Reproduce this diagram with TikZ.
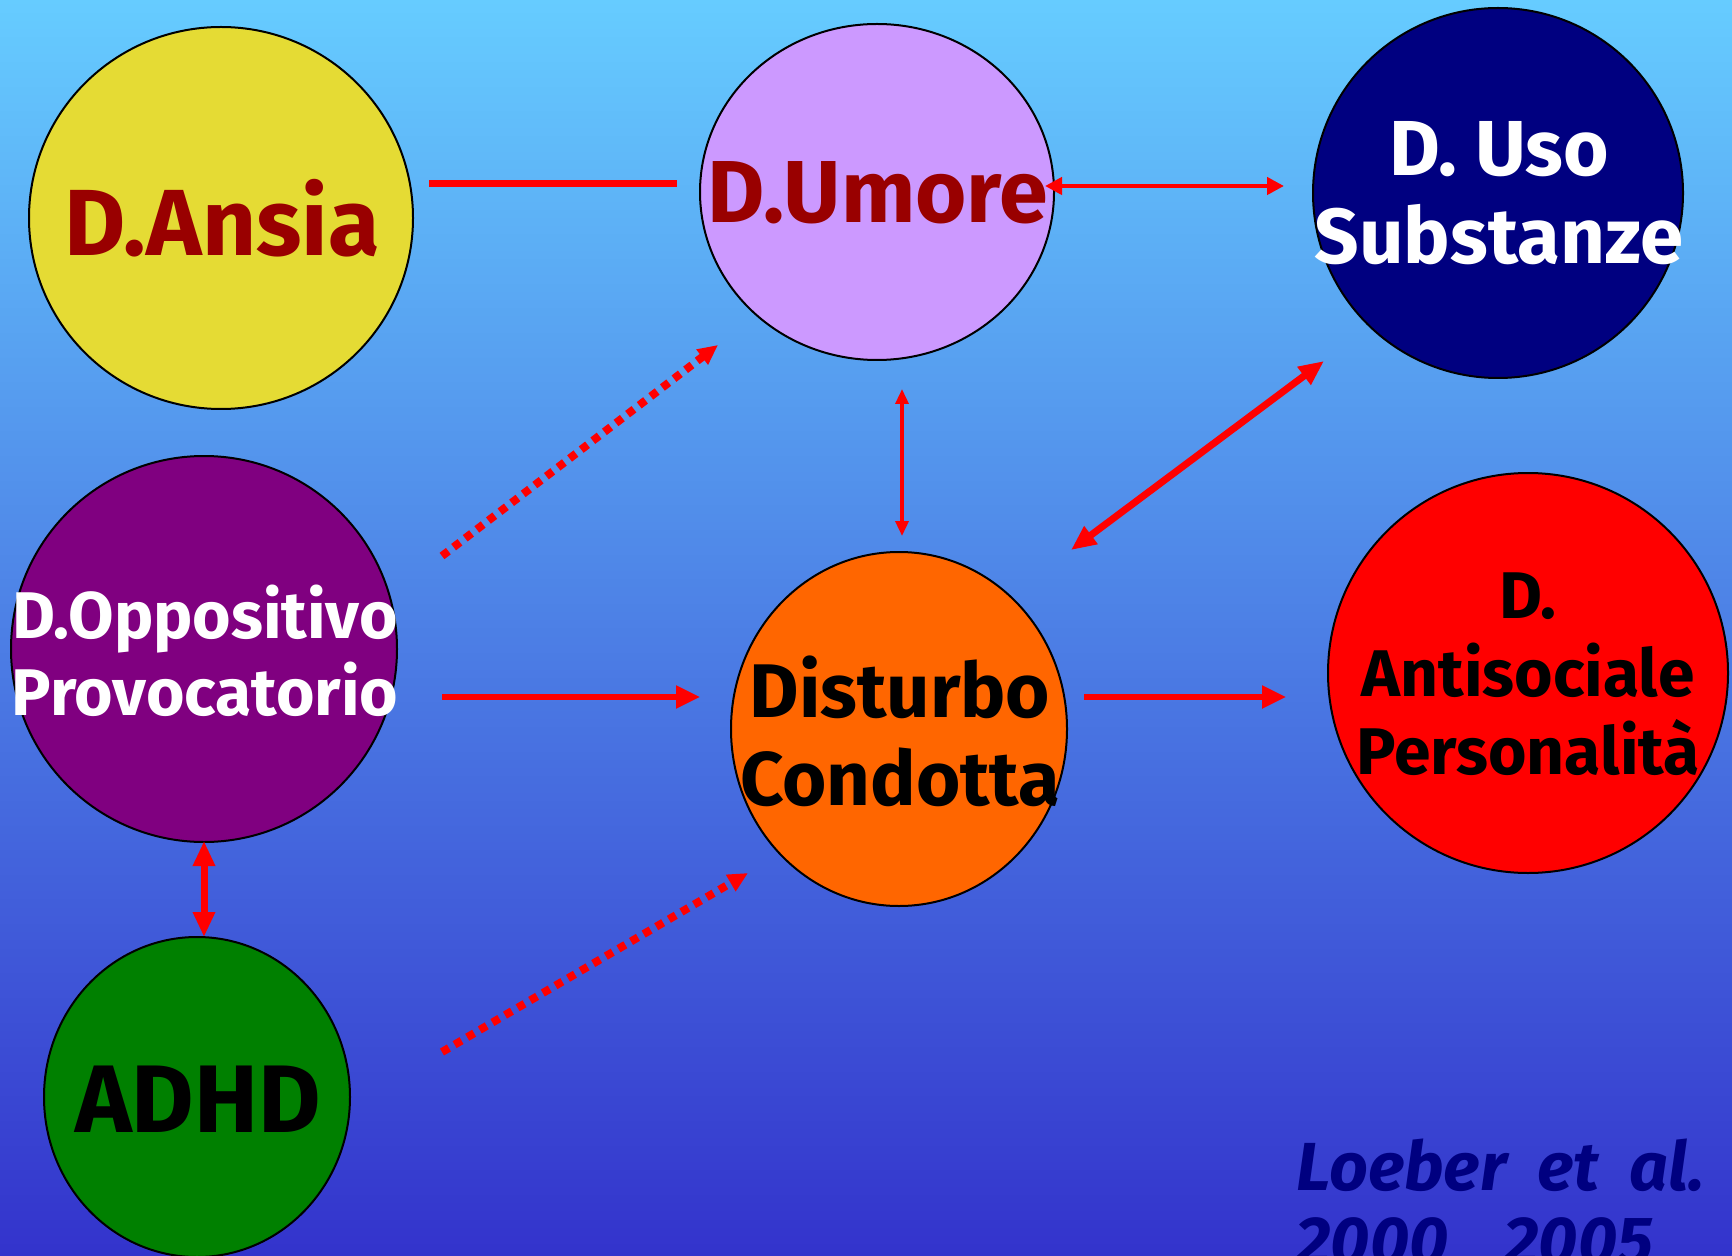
\documentclass[tikz,border=0pt]{standalone}
\usepackage{fontspec}
\setmainfont{Fira Sans}
\usetikzlibrary{arrows.meta,shapes.geometric}
\definecolor{bgtop}{RGB}{102,204,255}
\definecolor{bgbot}{RGB}{51,51,204}
\definecolor{ansiacol}{RGB}{229,219,52}
\definecolor{umorecol}{RGB}{204,153,255}
\definecolor{usocol}{RGB}{0,0,128}
\definecolor{oppcol}{RGB}{128,0,128}
\definecolor{distcol}{RGB}{255,102,0}
\definecolor{anticol}{RGB}{255,0,0}
\definecolor{adhdcol}{RGB}{0,128,0}
\definecolor{darkredtxt}{RGB}{153,0,0}
\definecolor{navytxt}{RGB}{0,0,128}
\definecolor{arrred}{RGB}{255,0,0}
\tikzset{
  blob/.style={ellipse, draw=black, line width=1pt, inner sep=0pt},
  lbl/.style={inner sep=0pt, align=center},
  plainline/.style={draw=arrred, line width=3.5pt},
  onearrow/.style={draw=arrred, line width=2.75pt, -{Triangle[length=12pt,width=11pt]}},
  thinboth/.style={draw=arrred, line width=2.2pt, {Triangle[length=8.5pt,width=8.5pt]}-{Triangle[length=8.5pt,width=8.5pt]}},
  vthinboth/.style={draw=arrred, line width=1.7pt, {Triangle[length=7.5pt,width=6.5pt]}-{Triangle[length=7.5pt,width=6.5pt]}},
  thickboth/.style={draw=arrred, line width=3.5pt, {Triangle[length=12.5pt,width=10.5pt]}-{Triangle[length=12.5pt,width=10.5pt]}},
  dotarrow/.style={draw=arrred, line width=4pt, dash pattern=on 4pt off 3.3pt, -{Triangle[length=10pt,width=9pt]}},
}
\begin{document}
\begin{tikzpicture}[x=0.5pt,y=-0.5pt]
\useasboundingbox (0,0) rectangle (1732,1256);
\shade[top color=bgtop,bottom color=bgbot] (0,0) rectangle (1732,1256);

% ellipses
\node[blob,fill=ansiacol,minimum width=192pt,minimum height=191pt] (ansia) at (221,218) {};
\node[blob,fill=umorecol,minimum width=177pt,minimum height=168pt] (umore) at (877,192) {};
\node[blob,fill=usocol,minimum width=185pt,minimum height=185pt] (uso) at (1498,193) {};
\node[blob,fill=oppcol,minimum width=193pt,minimum height=193pt] (opp) at (204,649) {};
\node[blob,fill=distcol,minimum width=168pt,minimum height=177pt] (dist) at (899,729) {};
\node[blob,fill=anticol,minimum width=200pt,minimum height=200pt] (anti) at (1528,673) {};
\node[blob,fill=adhdcol,minimum width=153pt,minimum height=160pt] (adhd) at (197,1097) {};

% texts
\node[lbl,text=darkredtxt,font=\fontsize{47}{50}\selectfont\bfseries] (ansiaT) at (222,218) {D.Ansia};
\node[lbl,text=darkredtxt,font=\fontsize{44}{48}\selectfont\bfseries] (umoreT) at (878,193) {D.Umore};
\node[lbl,text=white,font=\fontsize{39}{44}\selectfont\bfseries] (usoT) at (1499,193) {D.\ Uso\\Substanze};
\node[lbl,text=white,font=\fontsize{33}{38.5}\selectfont\bfseries] (oppT) at (205,651) {D.Oppositivo\\Provocatorio};
\node[lbl,text=black,font=\fontsize{38}{44}\selectfont\bfseries] (distT) at (900,731) {Disturbo\\Condotta};
\node[lbl,text=black,font=\fontsize{33}{39}\selectfont\bfseries] (antiT) at (1528,674) {D.\\Antisociale\\Personalità};
\node[lbl,text=black,font=\fontsize{48}{52}\selectfont\bfseries] (adhdT) at (198,1099) {ADHD};
\node[inner sep=0pt,align=left,anchor=north west,text=navytxt,font=\fontsize{34}{37}\selectfont\bfseries\itshape] (cite) at (1296,1138) {Loeber\hspace{0.45em}et\hspace{0.45em}al.\\2000\hspace{28pt}2005};

% connector endpoints
\coordinate (a1) at (429,184);
\coordinate (u1) at (677,184);
\coordinate (u2) at (1045,186);
\coordinate (s1) at (1284,186);
\coordinate (u3) at (902,389);
\coordinate (d1) at (902,536);
\coordinate (d2) at (1071,550);
\coordinate (s2) at (1324,361);
\coordinate (o1) at (442,697);
\coordinate (d3) at (700,697);
\coordinate (d4) at (1084,697);
\coordinate (t1) at (1286,697);
\coordinate (o2) at (442,556);
\coordinate (u4) at (718,345);
\coordinate (h1) at (442,1052);
\coordinate (d5) at (748,873);
\coordinate (o3) at (204,841);
\coordinate (h2) at (204,937);

% connectors
\draw[plainline] (a1) -- (u1);
\draw[thinboth] (u2) -- (s1);
\draw[vthinboth] (u3) -- (d1);
\draw[thickboth] (d2) -- (s2);
\draw[onearrow] (o1) -- (d3);
\draw[onearrow] (d4) -- (t1);
\draw[dotarrow] (o2) -- (u4);
\draw[dotarrow] (h1) -- (d5);
\draw[thickboth] (o3) -- (h2);
\end{tikzpicture}
\end{document}
